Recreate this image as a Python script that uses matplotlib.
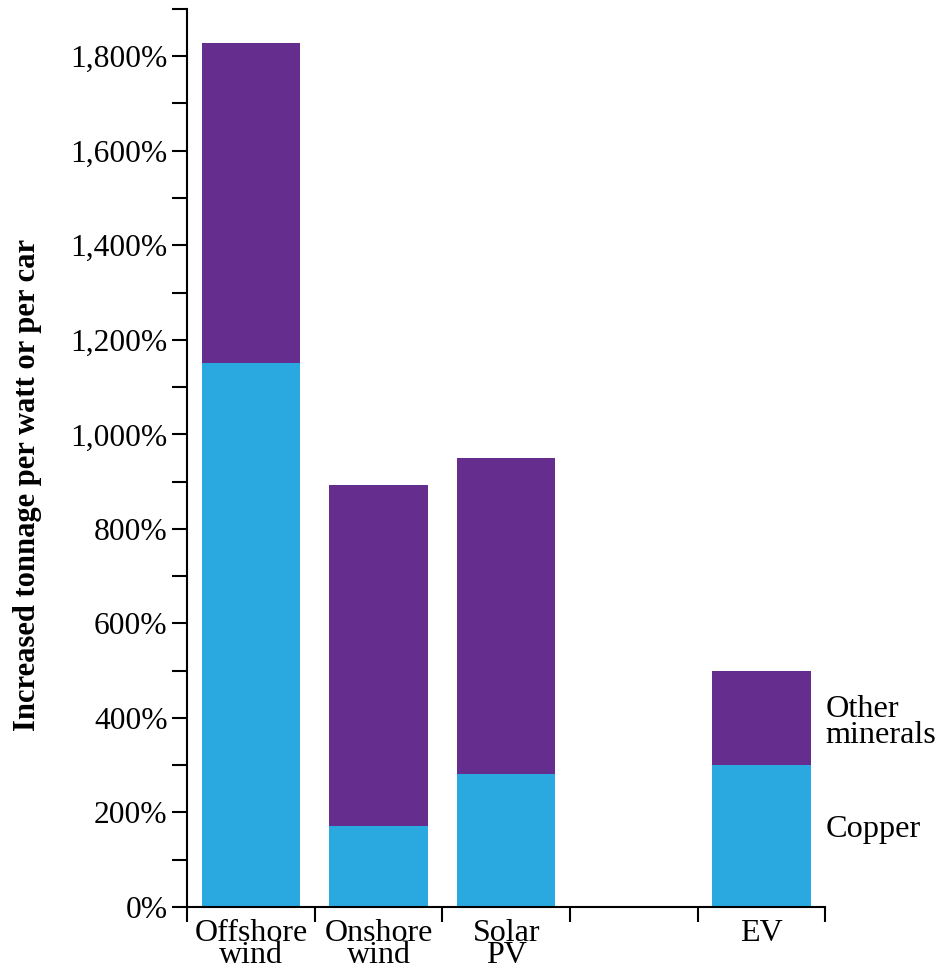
import numpy as np
import matplotlib.pyplot as plt
from matplotlib.ticker import MultipleLocator, FuncFormatter

plt.rcParams['font.family'] = ['Liberation Serif', 'DejaVu Serif']

# data (percent increase)
categories = ["Offshore\nwind", "Onshore\nwind", "Solar\nPV", "", "EV"]
copper = [1150, 171, 281, 0, 300]
totals = [1828, 893, 950, 0, 500]
other = [t - c for t, c in zip(totals, copper)]

cyan = "#29a9e0"
purple = "#652d8e"

fig = plt.figure(figsize=(9.4, 9.74), dpi=100)
ax = fig.add_axes([0.199, 0.0688, 0.679, 0.922])

x = np.arange(len(categories))
ax.bar(x, copper, width=0.77, color=cyan)
ax.bar(x, other, width=0.77, bottom=copper, color=purple)

ax.set_xlim(-0.5, 4.5)
ax.set_ylim(0, 1900)

ax.spines['top'].set_visible(False)
ax.spines['right'].set_visible(False)
ax.spines['left'].set_linewidth(1.5)
ax.spines['bottom'].set_linewidth(1.5)

ax.yaxis.set_major_locator(MultipleLocator(200))
ax.yaxis.set_minor_locator(MultipleLocator(100))
ax.yaxis.set_major_formatter(FuncFormatter(lambda v, p: f"{int(v):,}%"))
ax.tick_params(axis='y', which='both', length=11, width=1.5, labelsize=22.7, pad=3)

ax.set_xticks(x)
ax.set_xticklabels(categories, fontsize=23, linespacing=0.68, va='top')
ax.set_xticks(np.arange(-0.5, 5, 1), minor=True)
ax.tick_params(axis='x', which='major', length=0, pad=9)
ax.tick_params(axis='x', which='minor', length=11, width=1.5)

ax.set_ylabel("Increased tonnage per watt or per car", fontsize=22,
              fontweight='bold')
ax.yaxis.set_label_coords(-0.228, 0.47)

ax.text(4.5, 391, "Other\nminerals", fontsize=23.2, va='center', ha='left',
        linespacing=0.85, clip_on=False)
ax.text(4.5, 163, "Copper", fontsize=23.2, va='center', ha='left', clip_on=False)

fig.savefig("out.png", dpi=100)
